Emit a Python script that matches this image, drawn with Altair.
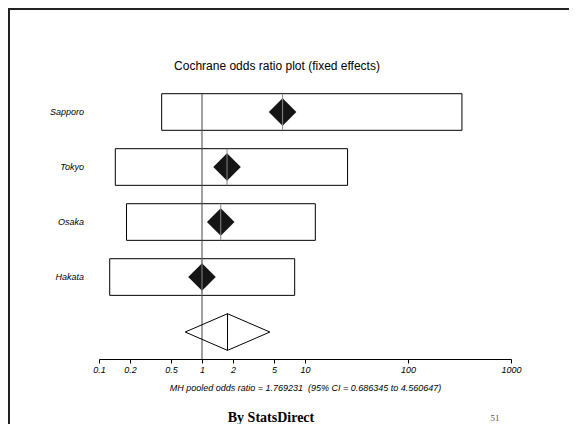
import altair as alt
import pandas as pd

# ---- data ----
studies = ["Sapporo", "Tokyo", "Osaka", "Hakata"]
rows = [1, 2, 3, 4]
odds_ratio = [6.06, 1.75, 1.52, 1.0]
ci_lower = [0.406, 0.144, 0.185, 0.127]
ci_upper = [334.0, 25.9, 12.6, 7.94]

pooled_or = 1.769231
pooled_lo = 0.686345
pooled_hi = 4.560647
pooled_row = 5

tick_values = [0.1, 0.2, 0.5, 1, 2, 5, 10, 100, 1000]

title_text = "Cochrane odds ratio plot (fixed effects)"
axis_title = "MH pooled odds ratio = 1.769231\u00a0\u00a0(95% CI = 0.686345 to 4.560647)"
footer_text = "By StatsDirect"
page_text = "51"

FONT = "Liberation Sans"
H = 0.333  # half-height of boxes / diamond (in row units)

studies_df = pd.DataFrame({
    "study": studies, "row": rows, "or": odds_ratio,
    "lo": ci_lower, "hi": ci_upper,
})

diamond_df = pd.DataFrame({
    "x": [pooled_lo, pooled_or, pooled_hi, pooled_or, pooled_lo],
    "y": [pooled_row, pooled_row - H, pooled_row, pooled_row + H, pooled_row],
    "o": [0, 1, 2, 3, 4],
})
pooled_df = pd.DataFrame({"or": [pooled_or], "row": [pooled_row]})
null_df = pd.DataFrame({"x": [1.0], "y1": [1 - H], "y2": [5.49]})

x_scale = alt.Scale(type="log", domain=[0.1, 1000], nice=False)
y_scale = alt.Scale(domain=[0, 5.49], nice=False, zero=False, reverse=True)
x_axis = alt.Axis(
    values=tick_values, format="~g", grid=False, title=axis_title,
    domainColor="black", domainWidth=1, tickColor="black", tickSize=4,
    labelFont=FONT, labelFontSize=9, labelFontStyle="italic", labelColor="black",
    labelPadding=2, labelFlush=False,
    titleFont=FONT, titleFontSize=9, titleFontStyle="italic",
    titleFontWeight="normal", titleColor="black", titlePadding=9,
)


def X(field):
    return alt.X(field, scale=x_scale, axis=x_axis)


def Y(field):
    return alt.Y(field, scale=y_scale, axis=None)


base = alt.Chart(studies_df)

boxes = base.transform_calculate(
    y1=f"datum.row - {H}", y2=f"datum.row + {H}"
).mark_rect(fill="white", fillOpacity=0, stroke="black", strokeWidth=1).encode(
    x=X("lo:Q"), x2="hi:Q", y=Y("y1:Q"), y2="y2:Q"
)

null_line = alt.Chart(null_df).mark_rule(color="#444", strokeWidth=1).encode(
    x=X("x:Q"), y=Y("y1:Q"), y2="y2:Q"
)

points = base.mark_point(shape="diamond", size=760, filled=True, color="#151515", opacity=1).encode(
    x=X("or:Q"), y=Y("row:Q")
)

point_lines = base.transform_calculate(
    y1=f"datum.row - {H}", y2=f"datum.row + {H}"
).mark_rule(color="#888", strokeWidth=1).encode(
    x=X("or:Q"), y=Y("y1:Q"), y2="y2:Q"
)

labels = base.mark_text(
    align="right", baseline="middle", font=FONT, fontSize=9,
    fontStyle="italic", color="black"
).encode(x=alt.value(-15), y=Y("row:Q"), text="study:N")

diamond = alt.Chart(diamond_df).mark_line(color="black", strokeWidth=1).encode(
    x=X("x:Q"), y=Y("y:Q"), order="o:Q"
)

pooled_line = alt.Chart(pooled_df).transform_calculate(
    y1=f"datum.row - {H}", y2=f"datum.row + {H}"
).mark_rule(color="black", strokeWidth=1).encode(
    x=X("or:Q"), y=Y("y1:Q"), y2="y2:Q"
)

title = alt.Chart(pd.DataFrame({"t": [title_text]})).mark_text(
    font=FONT, fontSize=12, color="black", align="center", baseline="middle"
).encode(x=alt.value(178), y=alt.value(9), text="t:N")

footer = alt.Chart(pd.DataFrame({"t": [footer_text]})).mark_text(
    font="Liberation Serif", fontSize=14, fontWeight="bold", color="black",
    align="center", baseline="middle"
).encode(x=alt.value(172), y=alt.value(361), text="t:N")

page_no = alt.Chart(pd.DataFrame({"t": [page_text]})).mark_text(
    font="Liberation Serif", fontSize=9, color="#555",
    align="center", baseline="middle"
).encode(x=alt.value(396), y=alt.value(361), text="t:N")

frame_left = alt.Chart(pd.DataFrame({"a": [0]})).mark_rule(color="#222", strokeWidth=2).encode(
    x=alt.value(-90), y=alt.value(-48), y2=alt.value(367)
)
frame_top = alt.Chart(pd.DataFrame({"a": [0]})).mark_rule(color="#222", strokeWidth=2).encode(
    x=alt.value(-91), x2=alt.value(470), y=alt.value(-48)
)

chart = alt.layer(
    boxes, null_line, points, point_lines, diamond, pooled_line, labels,
    title, footer, page_no, frame_left, frame_top
).properties(
    width=412, height=302,
    padding={"left": 91, "top": 49, "right": 58, "bottom": 65},
    autosize=alt.AutoSizeParams(type="none"),
    background="white",
).configure_view(stroke=None)

chart.save("out.html", embed_options={"renderer": "svg", "actions": False})
